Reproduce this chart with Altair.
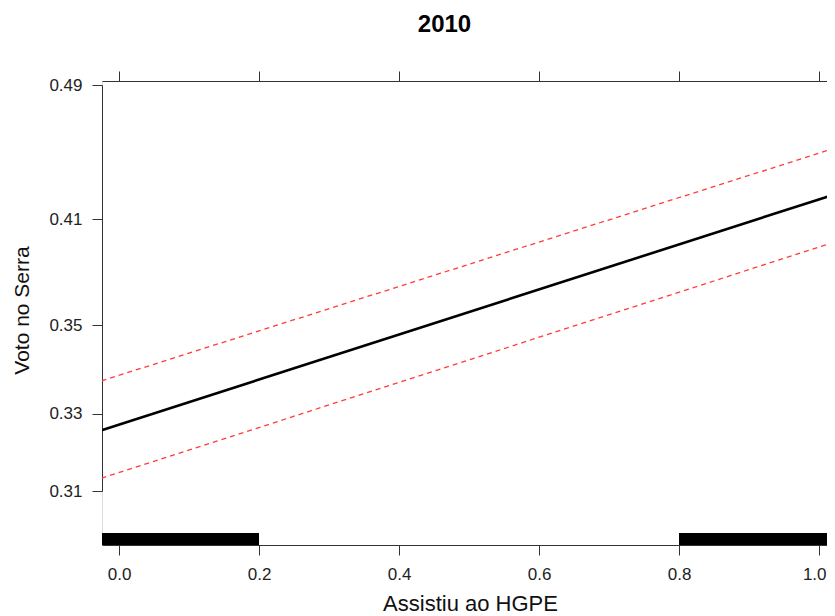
import altair as alt
import pandas as pd

# ---- data ----
x_pts = [-0.025, 1.025]
fit_vals = [0.3257, 0.4251]
upper_vals = [0.3374, 0.4526]
lower_vals = [0.3133, 0.3973]

y_ticks = [0.31, 0.33, 0.35, 0.41, 0.49]
x_ticks = [0.0, 0.2, 0.4, 0.6, 0.8, 1.0]

rug_start = [-0.03, 0.8]
rug_end = [0.2, 1.03]

# ---- tables ----
rows = []
for name, vals in [("fit", fit_vals), ("upper", upper_vals), ("lower", lower_vals)]:
    for xv, yv in zip(x_pts, vals):
        rows.append({"x": xv, "value": yv, "series": name})
df = pd.DataFrame(rows)
rug_df = pd.DataFrame({"start": rug_start, "end": rug_end})

FONT = "Liberation Sans"
W, H = 725, 464

xs = alt.Scale(domain=[-0.0243, 1.0114], nice=False, zero=False)
# the reference's vertical axis is not linear in the labelled values:
# piecewise mapping of the labelled ticks
ys = alt.Scale(domain=y_ticks, range=[410, 332.7, 244, 138, 4], nice=False, zero=False)

axis_common = dict(
    grid=False, domainColor="#333333", tickColor="#333333", tickSize=10,
    labelFont=FONT, labelFontSize=17, labelColor="#222222",
    titleFont=FONT, titleFontWeight="normal", titleColor="#111111",
)

y_axis = alt.Axis(values=y_ticks, format=".2f", title="Voto no Serra",
                  titleFontSize=21, labelPadding=10, titleX=-80, titleY=229,
                  titleAngle=270, titleAlign="center", titleBaseline="middle",
                  **axis_common)
x_axis_bottom = alt.Axis(values=x_ticks, format=".1f", title="Assistiu ao HGPE",
                         orient="bottom", titleFontSize=22, labelPadding=11,
                         titleX=368, titleY=58, titleAlign="center",
                         titleBaseline="middle", labelFlush=10, labelFlushOffset=7,
                         **axis_common)
x_axis_top = alt.Axis(values=x_ticks, orient="top", labels=False, title=None,
                      **axis_common)

base = alt.Chart(df)

fit_line = base.transform_filter(alt.datum.series == "fit").mark_line(
    color="black", strokeWidth=2.6, clip=True
).encode(
    x=alt.X("x:Q", scale=xs, axis=x_axis_bottom),
    y=alt.Y("value:Q", scale=ys, axis=y_axis),
)

ci_lines = base.transform_filter(alt.datum.series != "fit").mark_line(
    color="#ff3b3b", strokeWidth=1.3, strokeDash=[5, 4], clip=True
).encode(
    x=alt.X("x:Q", scale=xs, axis=x_axis_top),
    y=alt.Y("value:Q", scale=ys, axis=y_axis),
    detail="series:N",
)

rug = alt.Chart(rug_df).mark_rect(color="black", clip=True).encode(
    x=alt.X("start:Q", scale=xs, axis=None),
    x2="end:Q",
    y=alt.value(452),
    y2=alt.value(464),
)

chart = alt.layer(ci_lines, fit_line, rug).resolve_axis(x="independent").properties(
    width=W, height=H,
    title=alt.TitleParams("2010", font=FONT, fontSize=24, fontWeight="bold",
                          color="black", anchor="middle", dx=-20, offset=34),
    autosize=alt.AutoSizeParams(type="none"),
    padding={"left": 94, "top": 73, "right": 0, "bottom": 71},
).configure_view(strokeWidth=0).configure(background="white")

chart.save("out.html", embed_options={"renderer": "svg", "actions": False})
